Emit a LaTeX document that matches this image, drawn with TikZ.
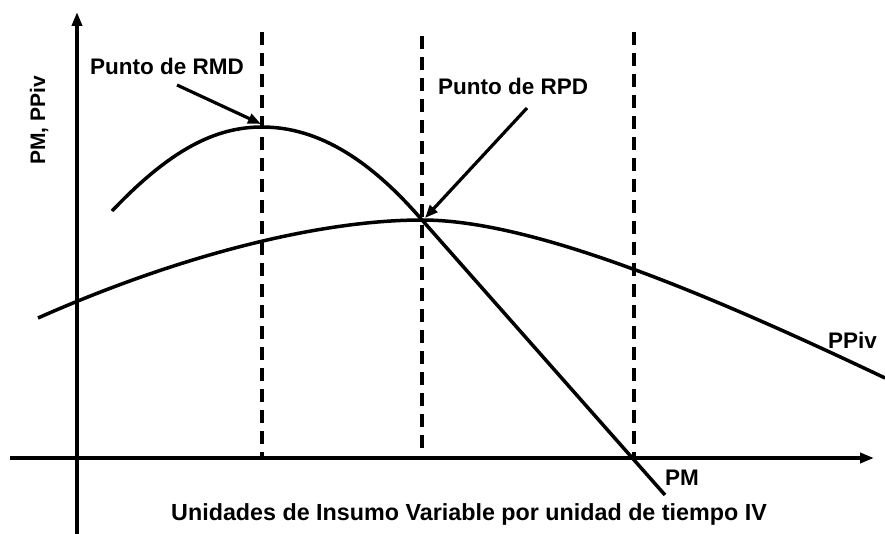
\documentclass[tikz,border=0pt]{standalone}
\usepackage{fontspec}
\setmainfont{Liberation Sans}
\usetikzlibrary{arrows.meta}
\begin{document}
\begin{tikzpicture}[x=1pt,y=-1pt,
  axis/.style={line width=4pt,-{Triangle[length=14pt,width=10pt]}},
  curve/.style={line width=3.5pt},
  guide/.style={line width=3.4pt,dash pattern=on 13pt off 8pt},
  pointer/.style={line width=3.2pt,-{Triangle[length=13pt,width=10pt]}},
  lbl/.style={font=\fontsize{22.5}{26}\selectfont\bfseries,inner sep=0pt,anchor=base west}]
\useasboundingbox (0,0) rectangle (885,534);
% axes
\coordinate (yb) at (77,534);
\coordinate (yt) at (77,12);
\coordinate (xl) at (10,458);
\coordinate (xr) at (874,458);
\draw[axis] (yb) -- (yt);
\draw[axis] (xl) -- (xr);
% dashed guides
\coordinate (d1t) at (262,32); \coordinate (d1b) at (262,458);
\coordinate (d2t) at (422,36); \coordinate (d2b) at (422,458);
\coordinate (d3t) at (634,32); \coordinate (d3b) at (634,458);
\draw[guide] (d1t) -- (d1b);
\draw[guide] (d2t) -- (d2b);
\draw[guide] (d3t) -- (d3b);
% PM curve
\coordinate (pms) at (112,211);
\coordinate (pmpk) at (262,127);
\coordinate (rpd) at (422,220);
\coordinate (pme) at (665,495);
\draw[curve] (pms) .. controls (170,150) and (215,127) .. (pmpk)
  .. controls (320,127) and (372,162) .. (rpd) -- (pme);
% PPiv curve
\coordinate (pps) at (38,318);
\coordinate (ppe) at (885,378);
\draw[curve] (pps) .. controls (180,255) and (320,220) .. (rpd)
  .. controls (530,220) and (700,290) .. (ppe);
% labels
\node[lbl] (rmd) at (90,75) {Punto de RMD};
\node[lbl] (rpdl) at (438,95) {Punto de RPD};
\coordinate (rmdtail) at (177,85);
\coordinate (rmdtip) at (261,124);
\coordinate (rpdtail) at (527,108);
\coordinate (rpdtip) at (425,218);
\draw[pointer] (rmdtail) -- (rmdtip);
\draw[pointer] (rpdtail) -- (rpdtip);
\node[lbl] (pm) at (665,485) {PM};
\node[lbl] (ppiv) at (828,348) {PPiv};
\node[lbl,anchor=base,font=\fontsize{23.3}{26}\selectfont\bfseries] (xlab) at (469,520) {Unidades de Insumo Variable por unidad de tiempo IV};
\node[lbl,rotate=90,font=\fontsize{21}{24}\selectfont\bfseries] (ylab) at (45,165) {PM, PPiv};
\end{tikzpicture}
\end{document}
